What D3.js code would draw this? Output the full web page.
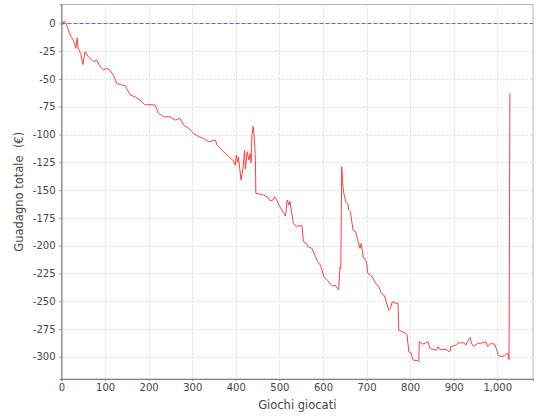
<!DOCTYPE html>
<html>
<head>
<meta charset="utf-8">
<script src="https://cdn.jsdelivr.net/npm/d3@7"></script>
<style>
  html, body { margin: 0; padding: 0; background: #ffffff; }
  svg { display: block; }
  text { font-family: "DejaVu Sans", sans-serif; }
</style>
</head>
<body>
<svg id="chart" width="540" height="420"></svg>
<script>
// ---- data ----
const games = [0,3,6,9,13,20,27,33,36,38,44,49,54,62,73,81,89,96,104,111,119,127,138,146,158,169,180,192,197,215,223,234,249,261,272,280,292,303,315,326,338,353,357,368,376,387,393,399,401,404,406,412,417,420,422,426,430,433,435,437,440,443,445,446,456,464,472,479,485,489,494,501,510,514,518,522,524,528,532,539,552,555,562,566,575,583,588,594,598,602,610,617,623,628,633,636,639,641,643,646,648,652,657,659,663,669,675,680,685,688,692,700,703,713,721,728,734,740,744,751,755,759,767,772,774,782,790,793,797,802,807,817,820,821,828,836,841,846,855,861,864,869,884,887,892,893,905,910,924,928,931,938,941,945,955,966,974,978,985,994,999,1002,1006,1016,1021,1025,1027,1029];
const gains = [1.5,-1,2,1,-3,-10.5,-15,-22.5,-13,-22,-27,-37,-25.5,-30,-34.5,-33,-39,-42,-40.5,-42,-46.5,-54,-55.5,-56,-64.5,-66,-69,-73.5,-73,-73.5,-81,-84,-84,-87,-85.5,-91.5,-94.5,-99,-102,-103.5,-106.5,-105,-109.5,-114,-117,-121,-123,-127.5,-118.5,-125,-120,-141,-129,-114,-131,-115.5,-123,-117,-125.5,-100.5,-92.5,-106.5,-123,-153,-153.7,-154.5,-156,-159.7,-159,-156,-159,-165,-171,-173.5,-159,-163.5,-160,-169.5,-180,-182.5,-182,-196.5,-198,-201,-202.5,-210,-214.5,-217.5,-222,-228,-231,-234.6,-236.5,-235.5,-238.5,-240,-219,-220.5,-129,-147,-153,-160.5,-162,-168,-169.5,-186,-187.5,-195,-202.5,-198,-210,-214.5,-225,-228,-234,-237,-243,-244.5,-249,-258,-256.5,-250.5,-252,-251.5,-276,-277.5,-279,-280,-295.5,-296.5,-303,-303.5,-304.5,-286.5,-288.7,-287.5,-286.5,-292.5,-293.5,-294,-291,-293.5,-293.5,-295,-295,-291,-289.5,-287.5,-287.5,-289.5,-286.5,-282.6,-288,-290.5,-288,-287.5,-286.5,-291,-288,-288.7,-294,-298.5,-299.5,-299.5,-297,-297.5,-302.5,-63];
const xTicks = [0,100,200,300,400,500,600,700,800,900,1000];
const yTicks = [0,-25,-50,-75,-100,-125,-150,-175,-200,-225,-250,-275,-300];
const xLabel = "Giochi giocati";
const yLabel = "Guadagno totale  (€)";

// ---- layout ----
const svg = d3.select("#chart");
const L = 61.5, T = 4.5, R = 533, B = 379;
const x = d3.scaleLinear().domain([0, 1082]).range([L, R]);
const y = d3.scaleLinear().domain([-320, 17]).range([B, T]);

// plot background + outline
svg.append("rect").attr("x", L).attr("y", T).attr("width", R - L).attr("height", B - T)
  .attr("fill", "#ffffff").attr("stroke", "#b4b4b4").attr("stroke-width", 1);

// grid
const grid = svg.append("g").attr("stroke", "#dcdcdc").attr("stroke-width", 1).attr("stroke-dasharray", "2,2");
grid.selectAll(".gx").data(xTicks.filter(d => d > 0)).enter().append("line")
  .attr("x1", d => Math.round(x(d)) + 0.5).attr("x2", d => Math.round(x(d)) + 0.5)
  .attr("y1", T).attr("y2", B);
grid.selectAll(".gy").data(yTicks).enter().append("line")
  .attr("y1", d => Math.round(y(d)) + 0.5).attr("y2", d => Math.round(y(d)) + 0.5)
  .attr("x1", L).attr("x2", R);

// zero marker
svg.append("line")
  .attr("x1", L).attr("x2", R)
  .attr("y1", Math.round(y(0)) + 0.5).attr("y2", Math.round(y(0)) + 0.5)
  .attr("stroke", "#6464e6").attr("stroke-width", 1).attr("stroke-dasharray", "4,2");

// data line
const pts = games.map((g, i) => [g, gains[i]]);
svg.append("path").datum(pts)
  .attr("fill", "none").attr("stroke", "#ff4040").attr("stroke-width", 1)
  .attr("stroke-linejoin", "round")
  .attr("d", d3.line().x(d => x(d[0])).y(d => y(d[1])));

// axes
const xAxis = d3.axisBottom(x).tickValues(xTicks).tickSize(2).tickPadding(3)
  .tickFormat(d3.format(","));
const yAxis = d3.axisLeft(y).tickValues(yTicks).tickSize(2).tickPadding(4)
  .tickFormat(d => String(d));

const gx = svg.append("g").attr("transform", `translate(0,${B})`).call(xAxis);
const gy = svg.append("g").attr("transform", `translate(${L},0)`).call(yAxis);
[gx, gy].forEach(g => {
  g.select(".domain").attr("stroke", "#808080");
  g.selectAll(".tick line").attr("stroke", "#808080");
  g.selectAll(".tick text").attr("fill", "#444444").style("font-size", "10px")
    .style("font-family", "'DejaVu Sans', sans-serif");
});

// axis labels
svg.append("text").attr("x", (L + R) / 2).attr("y", 409)
  .attr("text-anchor", "middle").attr("fill", "#444444")
  .style("font-size", "11.5px").text(xLabel);
svg.append("text")
  .attr("transform", `translate(23,${(T + B) / 2}) rotate(-90)`)
  .attr("text-anchor", "middle").attr("fill", "#444444")
  .style("white-space", "pre")
  .style("font-size", "11.5px").text(yLabel);
</script>
</body>
</html>
